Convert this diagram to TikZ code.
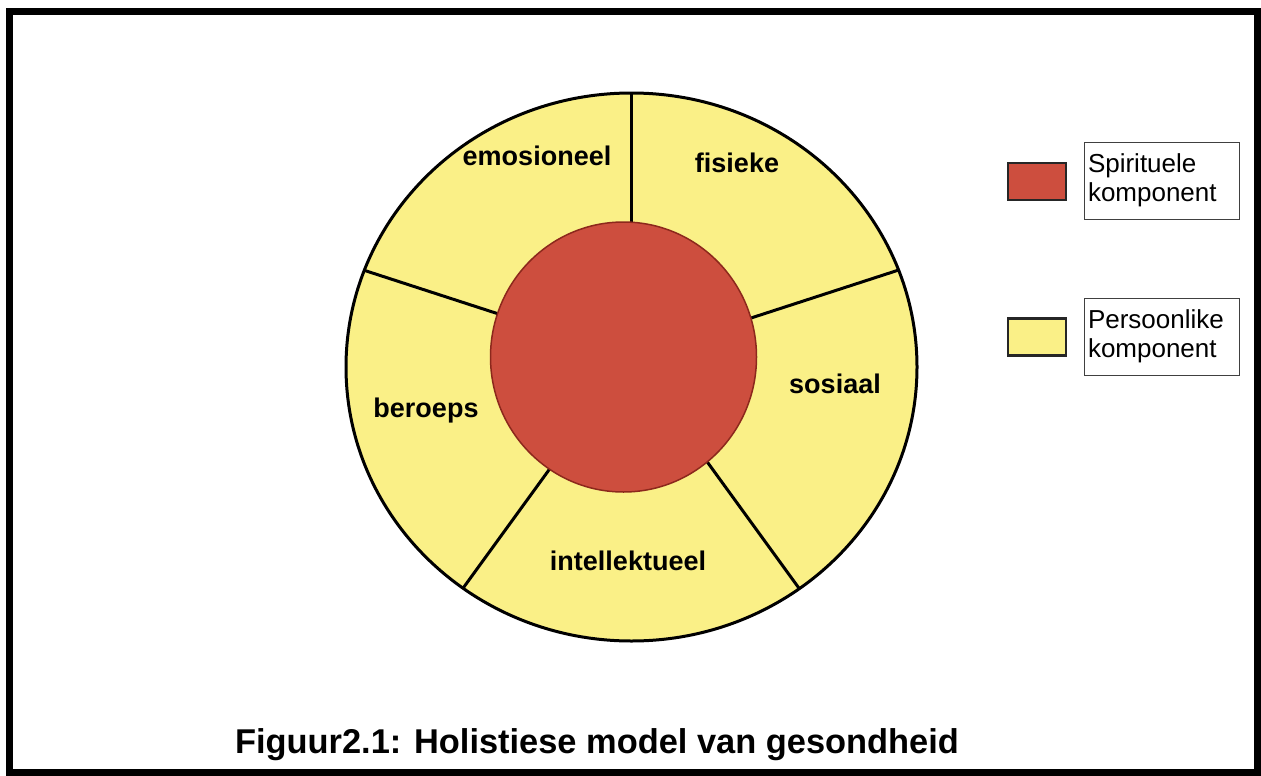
\documentclass[tikz,border=0pt]{standalone}
\usepackage{fontspec}
\setmainfont{Liberation Sans}
\definecolor{yel}{RGB}{250,240,135}
\definecolor{spred}{RGB}{205,78,62}
\definecolor{redline}{RGB}{140,40,28}
\begin{document}
\begin{tikzpicture}[x=1pt,y=-1pt,
  lbl/.style={font=\fontsize{27}{30}\selectfont\bfseries, inner sep=0pt},
  legtext/.style={draw=black!75, line width=1pt, text width=147pt, inner sep=4pt,
     minimum height=77pt, align=left, font=\fontsize{26}{29}\selectfont},
  legbox/.style={draw=black!85, line width=2.5pt, minimum width=58pt, minimum height=37pt, inner sep=0pt},
  divider/.style={line width=3pt, line cap=round}]
\useasboundingbox (0,0) rectangle (1261,776);
\fill[white] (0,0) rectangle (1261,776);
\draw[line width=7pt] (9,12) rectangle (1257,772);
% outer wheel
\fill[yel] (631.5,367) ellipse [x radius=285.5pt, y radius=274pt];
\begin{scope}
  \clip (631.5,367) ellipse [x radius=285.5pt, y radius=274pt];
  \coordinate (hub) at (631,357);
  \foreach \a in {90,18,-54,-126,162}
    \draw[divider] (hub) -- ++(\a:420pt);
\end{scope}
\draw[line width=3pt] (631.5,367) ellipse [x radius=285.5pt, y radius=274pt];
% inner core
\coordinate (core) at (623.5,357);
\filldraw[fill=spred, draw=redline, line width=1.5pt] (core) ellipse [x radius=133pt, y radius=135pt];
% labels
\node[lbl] (emo) at (537,156) {emosioneel};
\node[lbl] (fis) at (737,163) {fisieke};
\node[lbl] (ber) at (426,411) {beroeps};
\node[lbl] (sos) at (835,384) {sosiaal};
\node[lbl] (int) at (628,561) {intellektueel};
% legend
\node[legbox, fill=spred] (spbox) at (1037,181.5) {};
\node[legtext] (sptext) at (1161.5,180.5) {Spirituele\\komponent};
\node[legbox, fill=yel] (pbox) at (1037,337) {};
\node[legtext] (ptext) at (1161.5,336.5) {Persoonlike\\komponent};
% caption
\node[font=\fontsize{34.4}{38}\selectfont\bfseries, anchor=base, inner sep=0pt] (cap) at (597,753) {Figuur2.1: Holistiese model van gesondheid};
\end{tikzpicture}
\end{document}
